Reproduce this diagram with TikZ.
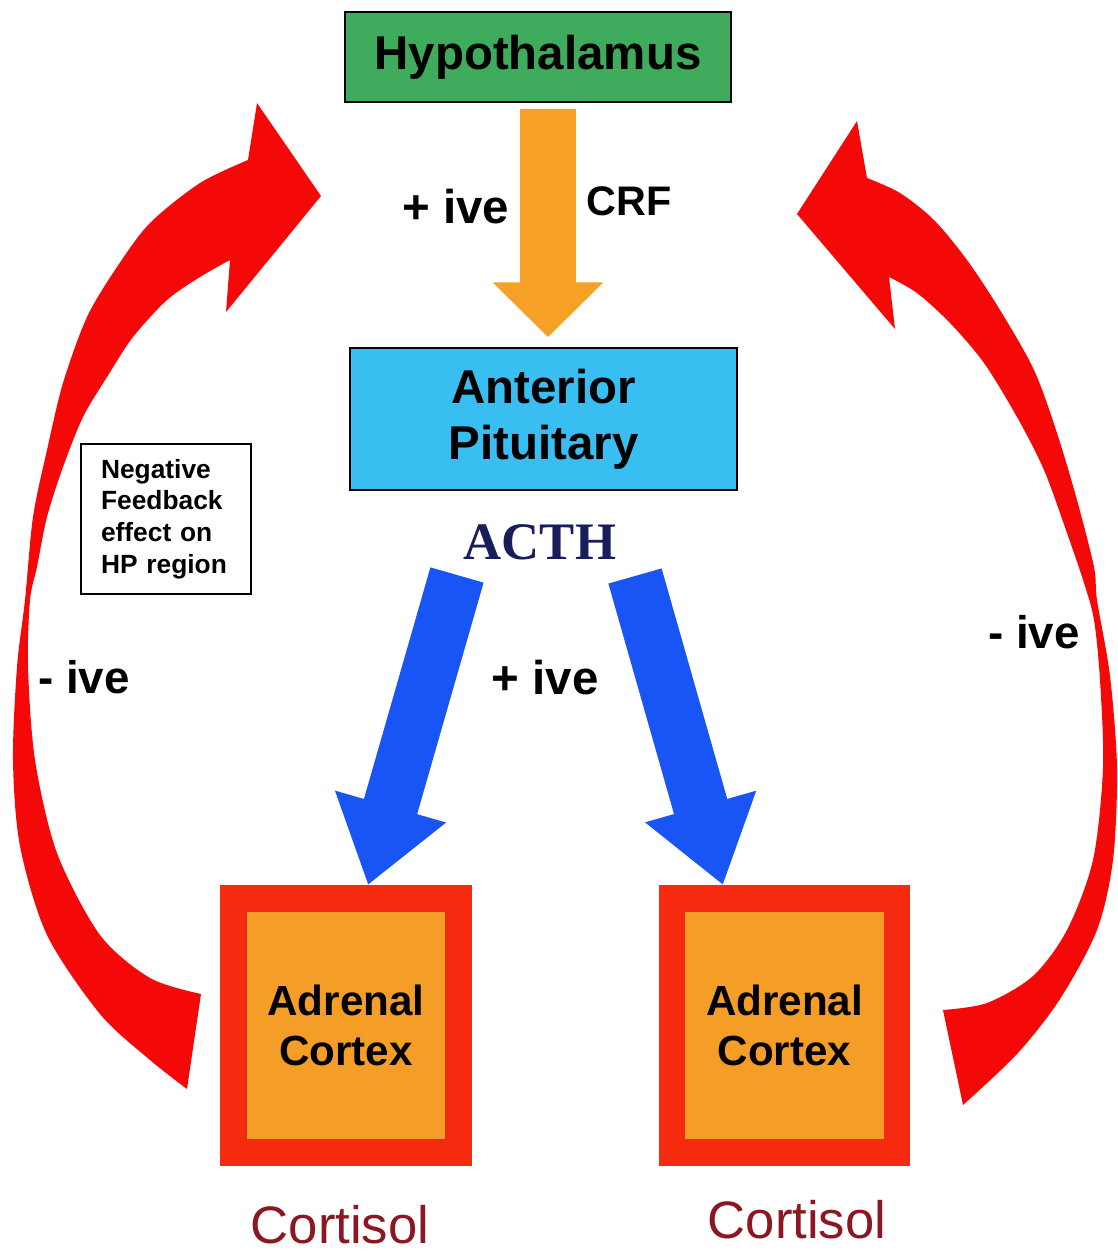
\documentclass[tikz,border=0pt]{standalone}
\usepackage{fontspec}
\setmainfont{Liberation Sans}
\newfontfamily\acthfont{Liberation Serif}
\usetikzlibrary{arrows.meta,calc}

\definecolor{hypgreen}{RGB}{62,172,92}
\definecolor{pitblue}{RGB}{56,190,240}
\definecolor{crforange}{RGB}{247,160,38}
\definecolor{acthblue}{RGB}{25,85,245}
\definecolor{fbred}{RGB}{245,8,8}
\definecolor{adrred}{RGB}{245,42,15}
\definecolor{adrorange}{RGB}{244,158,40}
\definecolor{cortred}{RGB}{140,22,34}
\definecolor{acthtext}{RGB}{25,30,90}

\begin{document}
\begin{tikzpicture}[x=0.02cm,y=-0.02cm,
  organ/.style={draw=black,line width=1pt,font=\bfseries\fontsize{27}{32}\selectfont,align=center},
  sign/.style={font=\bfseries\fontsize{27}{32}\selectfont},
  adrenal/.style={draw=adrred,line width=15.3pt,fill=adrorange,minimum width=4.5cm,minimum height=5.08cm,
    font=\bfseries\fontsize{24}{28}\selectfont,align=center},
  cortisol/.style={text=cortred,font=\fontsize{30}{36}\selectfont},
  crfarrow/.style={crforange,line width=31.7pt,-{Triangle[length=31.2pt,width=61.2pt]}},
  actharrow/.style={acthblue,line width=31.5pt,-{Triangle[length=46.5pt,width=62.5pt]}}]
  \useasboundingbox (0,0) rectangle (1117,1254);

  % glands
  \node[organ,fill=hypgreen,minimum width=7.72cm,minimum height=1.8cm] (hypo) at (538,57) {Hypothalamus};
  \node[organ,fill=pitblue,minimum width=7.74cm,minimum height=2.84cm] (pit) at (543.5,419) {Anterior\\Pituitary};
  \node[adrenal] (adrL) at (346,1025.5) {Adrenal\\Cortex};
  \node[adrenal] (adrR) at (784.5,1025.5) {Adrenal\\Cortex};
  \node[cortisol] (cortL) at (340,1225) {Cortisol};
  \node[cortisol] (cortR) at (797,1220) {Cortisol};

  % hormones and signs
  \node[font=\bfseries\fontsize{23.5}{28}\selectfont] (crf) at (629,201) {CRF};
  \node[text=acthtext,font=\acthfont\bfseries\fontsize{30}{36}\selectfont] (acth) at (540,542) {ACTH};
  \node[sign] (posTop) at (456,207) {+ ive};
  \node[sign] (posMid) at (545,678) {+ ive};
  \node[sign,font=\bfseries\fontsize{26}{30}\selectfont] (negL) at (84,677) {- ive};
  \node[sign,font=\bfseries\fontsize{26}{30}\selectfont] (negR) at (1034,632) {- ive};
  \node[draw,line width=1.1pt,align=left,text width=2.6cm,inner xsep=0.4cm,minimum height=3cm,
    font=\bfseries\fontsize{15}{18}\selectfont] (note) at (166,519) {Negative\\Feedback\\effect on\\HP region};

  % CRF and ACTH arrows
  \draw[crfarrow] ($(hypo.south)+(10,6)$) -- ($(pit.north)+(4.5,-10)$);
  \coordinate (acthL) at ($(acth)+(-83,33)$);
  \coordinate (acthR) at ($(acth)+(95,34)$);
  \draw[actharrow] (acthL) -- ($(adrL.north)+(22,0)$);
  \draw[actharrow] (acthR) -- ($(adrR.north)+(-61.5,0)$);

  % feedback arrows
  \fill[fbred] plot[smooth] coordinates {(187,1089) (150,1060) (100,1014) (47,935) (20,846) (13,760)
      (17,667) (25,600) (33,517) (47,450) (63,383) (87,317) (117,267) (150,223) (200,183) (248,160)}
    -- (257,103) -- (321,196) -- (226,312) -- (230,260)
    -- plot[smooth] coordinates {(230,260) (200,277) (167,300) (133,337) (107,377) (83,417) (63,467)
      (47,517) (37,567) (30,600) (28,667) (35,760) (57,853) (100,935) (150,978) (201,994)} -- cycle;
  \fill[fbred] plot[smooth] coordinates {(963,1105) (1017,1054) (1060,999) (1097,930) (1113,860) (1117,768)
      (1110,676) (1097,600) (1094,567) (1077,500) (1057,433) (1034,370) (1000,310) (967,260) (934,220)
      (900,193) (867,178)}
    -- (857,121) -- (797,214) -- (895,329) -- (889,277)
    -- plot[smooth] coordinates {(889,277) (917,293) (950,323) (984,363) (1017,417) (1044,470) (1067,533)
      (1084,583) (1094,620) (1100,680) (1103,768) (1093,860) (1067,930) (1033,976) (987,1003) (943,1010)} -- cycle;
\end{tikzpicture}
\end{document}
